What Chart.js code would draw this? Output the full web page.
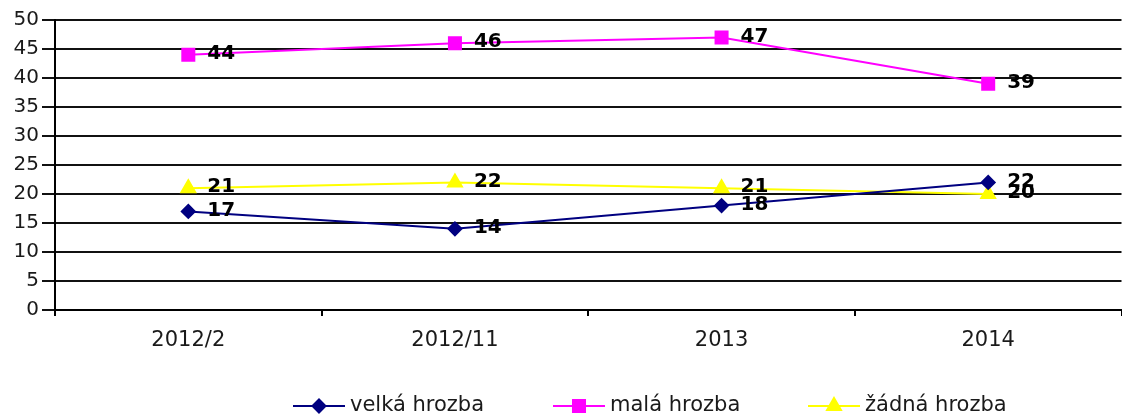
<!DOCTYPE html>
<html>
<head>
<meta charset="utf-8">
<script src="https://cdn.jsdelivr.net/npm/chart.js@4"></script>
<style>
  html, body { margin: 0; padding: 0; background: #fff; overflow: hidden; }
  #wrap { width: 1122px; height: 419px; overflow: hidden; }
</style>
</head>
<body>
<!-- canvas is a little wider: Chart.js keeps a small right margin that the original has not -->
<div id="wrap"><canvas id="myChart" width="1132" height="419"></canvas></div>
<script>
// chart data
const categories = ["2012/2", "2012/11", "2013", "2014"];
const velkaHrozba = [17, 14, 18, 22];
const malaHrozba = [44, 46, 47, 39];
const zadnaHrozba = [21, 22, 21, 20];
const seriesNames = ["velká hrozba", "malá hrozba", "žádná hrozba"];

const FONT = "'DejaVu Sans', Verdana, sans-serif";

// value labels next to each point
const valueLabels = {
  id: "valueLabels",
  afterDatasetsDraw(chart) {
    const ctx = chart.ctx;
    ctx.save();
    ctx.font = "bold 20px " + FONT;
    ctx.fillStyle = "#000";
    ctx.textAlign = "left";
    ctx.textBaseline = "middle";
    chart.data.datasets.forEach((ds, i) => {
      chart.getDatasetMeta(i).data.forEach((pt, j) => {
        ctx.fillText(String(ds.data[j]), pt.x + 19, pt.y - 1);
      });
    });
    ctx.restore();
  }
};

// legend at the bottom: line + marker + text
const bottomLegend = {
  id: "bottomLegend",
  afterDraw(chart) {
    const ctx = chart.ctx;
    const starts = [293, 553, 808];
    const y = 406;
    ctx.save();
    chart.data.datasets.forEach((ds, i) => {
      const x0 = starts[i];
      ctx.strokeStyle = ds.borderColor;
      ctx.lineWidth = 2;
      ctx.beginPath();
      ctx.moveTo(x0, y);
      ctx.lineTo(x0 + 52, y);
      ctx.stroke();
      ctx.fillStyle = ds.pointBackgroundColor;
      ctx.strokeStyle = ds.pointBackgroundColor;
      Chart.helpers.drawPoint(ctx, {
        pointStyle: ds.pointStyle,
        radius: ds.pointRadius,
        borderWidth: 1
      }, x0 + 26, y);
      ctx.fillStyle = "#1a1a1a";
      ctx.font = "21px " + FONT;
      ctx.textBaseline = "middle";
      ctx.fillText(ds.label, x0 + 57, y);
    });
    ctx.restore();
  }
};

const config = {
  type: "line",
  data: {
    labels: categories,
    datasets: [
      {
        label: seriesNames[0],
        data: velkaHrozba,
        borderColor: "#000080",
        backgroundColor: "#000080",
        pointBackgroundColor: "#000080",
        pointBorderColor: "#000080",
        pointStyle: "rectRot",
        pointRadius: 6.5,
        borderWidth: 2
      },
      {
        label: seriesNames[1],
        data: malaHrozba,
        borderColor: "#ff00ff",
        backgroundColor: "#ff00ff",
        pointBackgroundColor: "#ff00ff",
        pointBorderColor: "#ff00ff",
        pointStyle: "rect",
        pointRadius: 8.5,
        borderWidth: 2
      },
      {
        label: seriesNames[2],
        data: zadnaHrozba,
        borderColor: "#ffff00",
        backgroundColor: "#ffff00",
        pointBackgroundColor: "#ffff00",
        pointBorderColor: "#ffff00",
        pointStyle: "triangle",
        pointRadius: 8,
        borderWidth: 2
      }
    ]
  },
  options: {
    responsive: false,
    animation: false,
    layout: { padding: { top: 20, right: 0, bottom: 0, left: 0 } },
    plugins: {
      legend: { display: false },
      tooltip: { enabled: false }
    },
    scales: {
      x: {
        offset: true,
        grid: {
          offset: true,
          drawOnChartArea: false,
          drawTicks: true,
          tickLength: 6,
          color: "#000",
          lineWidth: 2
        },
        border: { display: true, color: "#000", width: 2 },
        ticks: {
          color: "#1a1a1a",
          font: { family: FONT, size: 21 },
          padding: 12,
          maxRotation: 0
        },
        afterFit(scale) {
          scale.height = 109;
          scale.paddingLeft = 0;
          scale.paddingRight = 0;
        }
      },
      y: {
        min: 0,
        max: 50,
        ticks: {
          stepSize: 5,
          color: "#1a1a1a",
          font: { family: FONT, size: 20 },
          padding: 3
        },
        grid: {
          color: "#111",
          lineWidth: 2,
          tickLength: 13
        },
        border: { display: true, color: "#000", width: 2 },
        afterFit(scale) { scale.width = 55; }
      }
    }
  },
  plugins: [valueLabels, bottomLegend]
};

const myChart = new Chart(document.getElementById("myChart"), config);
</script>
</body>
</html>
